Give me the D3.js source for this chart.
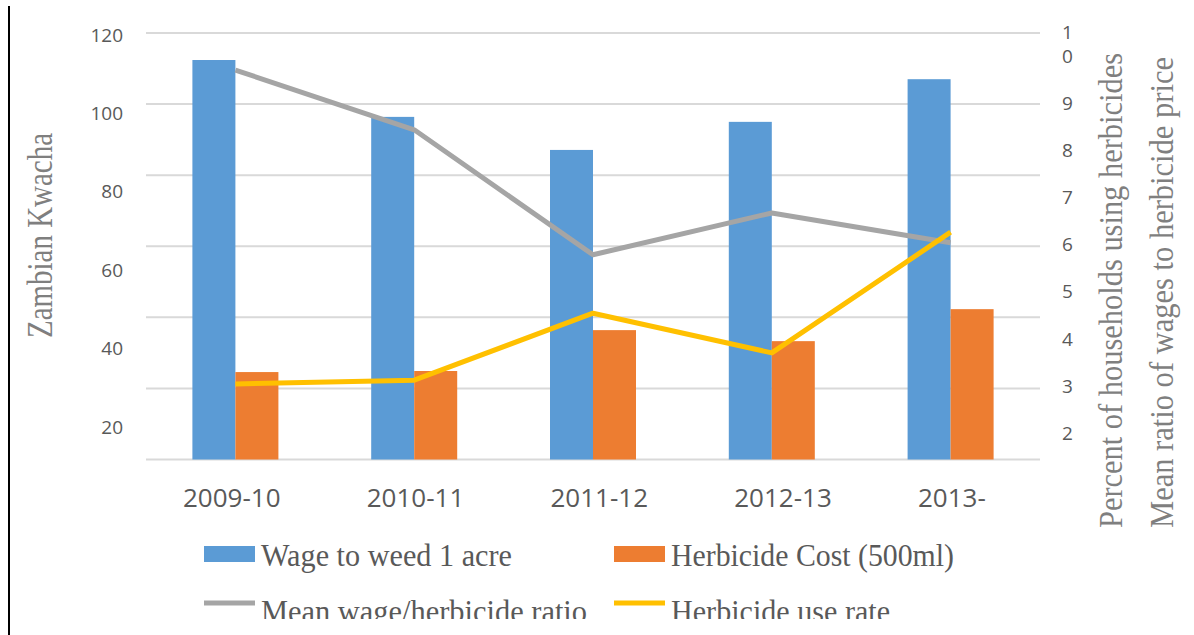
<!DOCTYPE html>
<html>
<head>
<meta charset="utf-8">
<script src="https://cdn.jsdelivr.net/npm/d3@7"></script>
<style>
  html, body { margin: 0; padding: 0; background: #fff; }
  svg { display: block; }
</style>
</head>
<body>
<svg id="chart" width="1194" height="635"></svg>
<script>
// ---- data ----
const categories = ["2009-10", "2010-11", "2011-12", "2012-13", "2013-"];
const wageToWeed = [112.4, 96.4, 87.1, 95.0, 107.0];
const herbicideCost = [24.6, 24.9, 36.4, 33.3, 42.3];
const meanRatio = [9.13, 7.73, 4.80, 5.78, 5.08];
const useRate = [1.77, 1.86, 3.43, 2.50, 5.33];
const leftTicks = [120, 100, 80, 60, 40, 20];
const rightTicks = [10, 9, 8, 7, 6, 5, 4, 3, 2];
const gridTicks = [0, 20, 40, 60, 80, 100, 120];
const barSeries = ["Wage to weed 1 acre", "Herbicide Cost (500ml)"];
const lineSeries = ["Mean wage/herbicide ratio", "Herbicide use rate"];
const leftTitle = "Zambian Kwacha";
const rightTitles = ["Percent of households using herbicides", "Mean ratio of wages to herbicide price"];

// ---- layout ----
const svg = d3.select("#chart");
const plot = { left: 146, right: 1040, top: 33, bottom: 459.5 };
const textGray = "#595959";
const colors = { bar: ["#5b9bd5", "#ed7d31"], line: ["#a5a5a5", "#ffc000"] };

const x = d3.scaleBand().domain(categories).range([plot.left, plot.right])
  .paddingInner(0.519).paddingOuter(0.2595);
const xSub = d3.scaleBand().domain(barSeries).range([0, x.bandwidth()]);
const y = d3.scaleLinear().domain([0, 120]).range([plot.bottom, plot.top]);
const y2 = d3.scaleLinear().domain([0, 10]).range([plot.bottom, plot.top]);

// label placement scales (labels in the reference are spaced differently from the gridlines)
const yLabL = d3.scaleLinear().domain([20, 120]).range([427, 35]);
const yLabR = d3.scaleLinear().domain([2, 9]).range([433, 103.5]);
const xLab = d3.scaleLinear().domain([0, categories.length - 1]).range([183, 918]);

// left frame line
svg.append("line").attr("x1", 9).attr("x2", 9).attr("y1", 6).attr("y2", 635)
  .attr("stroke", "#000").attr("stroke-width", 2);

// gridlines
svg.append("g").selectAll("line").data(gridTicks).join("line")
  .attr("x1", plot.left).attr("x2", plot.right)
  .attr("y1", d => y(d)).attr("y2", d => y(d))
  .attr("stroke", "#d9d9d9").attr("stroke-width", 2);

// left tick labels
svg.append("g").selectAll("text").data(leftTicks).join("text")
  .attr("x", 123).attr("y", d => yLabL(d)).attr("dy", "0.35em")
  .attr("text-anchor", "end").attr("font-family", "'Open Sans', sans-serif")
  .attr("font-size", 19).attr("fill", textGray).text(d => d);

// right tick labels ("10" wraps onto two lines in the reference)
const rt = svg.append("g").selectAll("text").data(rightTicks).join("text")
  .attr("x", 1062).attr("y", d => yLabR(d)).attr("dy", "0.35em")
  .attr("font-family", "'Open Sans', sans-serif")
  .attr("font-size", 19).attr("fill", textGray);
rt.each(function(d) {
  const t = d3.select(this);
  const s = String(d);
  if (s.length > 1) {
    t.append("tspan").attr("x", 1062).attr("dy", "-0.9em").text(s[0]);
    t.append("tspan").attr("x", 1062).attr("dy", "1.25em").text(s.slice(1));
  } else t.text(s);
});

// x labels
svg.append("g").selectAll("text").data(categories).join("text")
  .attr("x", (d, i) => xLab(i)).attr("y", 507)
  .attr("font-family", "'Open Sans', sans-serif").attr("font-size", 26)
  .attr("fill", textGray).text(d => d);

// bars
const barData = [wageToWeed, herbicideCost];
barData.forEach((vals, si) => {
  svg.append("g").selectAll("rect").data(vals).join("rect")
    .attr("x", (d, i) => x(categories[i]) + xSub(barSeries[si]))
    .attr("width", xSub.bandwidth())
    .attr("y", d => y(d))
    .attr("height", d => y(0) - y(d))
    .attr("fill", colors.bar[si]);
});

// lines
const lineData = [meanRatio, useRate];
lineData.forEach((vals, si) => {
  const gen = d3.line()
    .x((d, i) => x(categories[i]) + x.bandwidth() / 2)
    .y(d => y2(d));
  svg.append("path").datum(vals).attr("d", gen)
    .attr("fill", "none").attr("stroke", colors.line[si])
    .attr("stroke-width", 5).attr("stroke-linejoin", "round");
});

// axis titles
function vtitle(txt, cx, cy, len, size) {
  svg.append("text")
    .attr("transform", `translate(${cx},${cy}) rotate(-90)`)
    .attr("text-anchor", "middle")
    .attr("font-family", "'Liberation Serif', 'DejaVu Serif', serif")
    .attr("font-size", size).attr("fill", "#7f7f7f")
    .attr("textLength", len).attr("lengthAdjust", "spacingAndGlyphs")
    .text(txt);
}
vtitle(leftTitle, 52, 235.5, 205, 36);
vtitle(rightTitles[0], 1122, 290.5, 475, 33);
vtitle(rightTitles[1], 1173, 292.5, 471, 33);

// legend
const defs = svg.append("defs");
defs.append("clipPath").attr("id", "legclip").append("rect")
  .attr("x", 0).attr("y", 0).attr("width", 1194).attr("height", 619);
const leg = svg.append("g").attr("clip-path", "url(#legclip)");
const legItems = [
  { name: barSeries[0], type: "bar", color: colors.bar[0], sx: 204, row: 0, len: 251 },
  { name: barSeries[1], type: "bar", color: colors.bar[1], sx: 614, row: 0, len: 283 },
  { name: lineSeries[0], type: "line", color: colors.line[0], sx: 204, row: 1, len: 326 },
  { name: lineSeries[1], type: "line", color: colors.line[1], sx: 614, row: 1, len: 219 }
];
legItems.forEach(it => {
  const base = it.row === 0 ? 566 : 622;
  if (it.type === "bar") {
    leg.append("rect").attr("x", it.sx).attr("y", base - 20).attr("width", 51).attr("height", 16)
      .attr("fill", it.color);
  } else {
    leg.append("line").attr("x1", it.sx).attr("x2", it.sx + 51)
      .attr("y1", base - 19).attr("y2", base - 19)
      .attr("stroke", it.color).attr("stroke-width", 5);
  }
  leg.append("text").attr("x", it.sx + 57).attr("y", base)
    .attr("font-family", "'Liberation Serif', 'DejaVu Serif', serif")
    .attr("font-size", 31).attr("fill", textGray)
    .attr("textLength", it.len).attr("lengthAdjust", "spacingAndGlyphs")
    .text(it.name);
});
</script>
</body>
</html>
